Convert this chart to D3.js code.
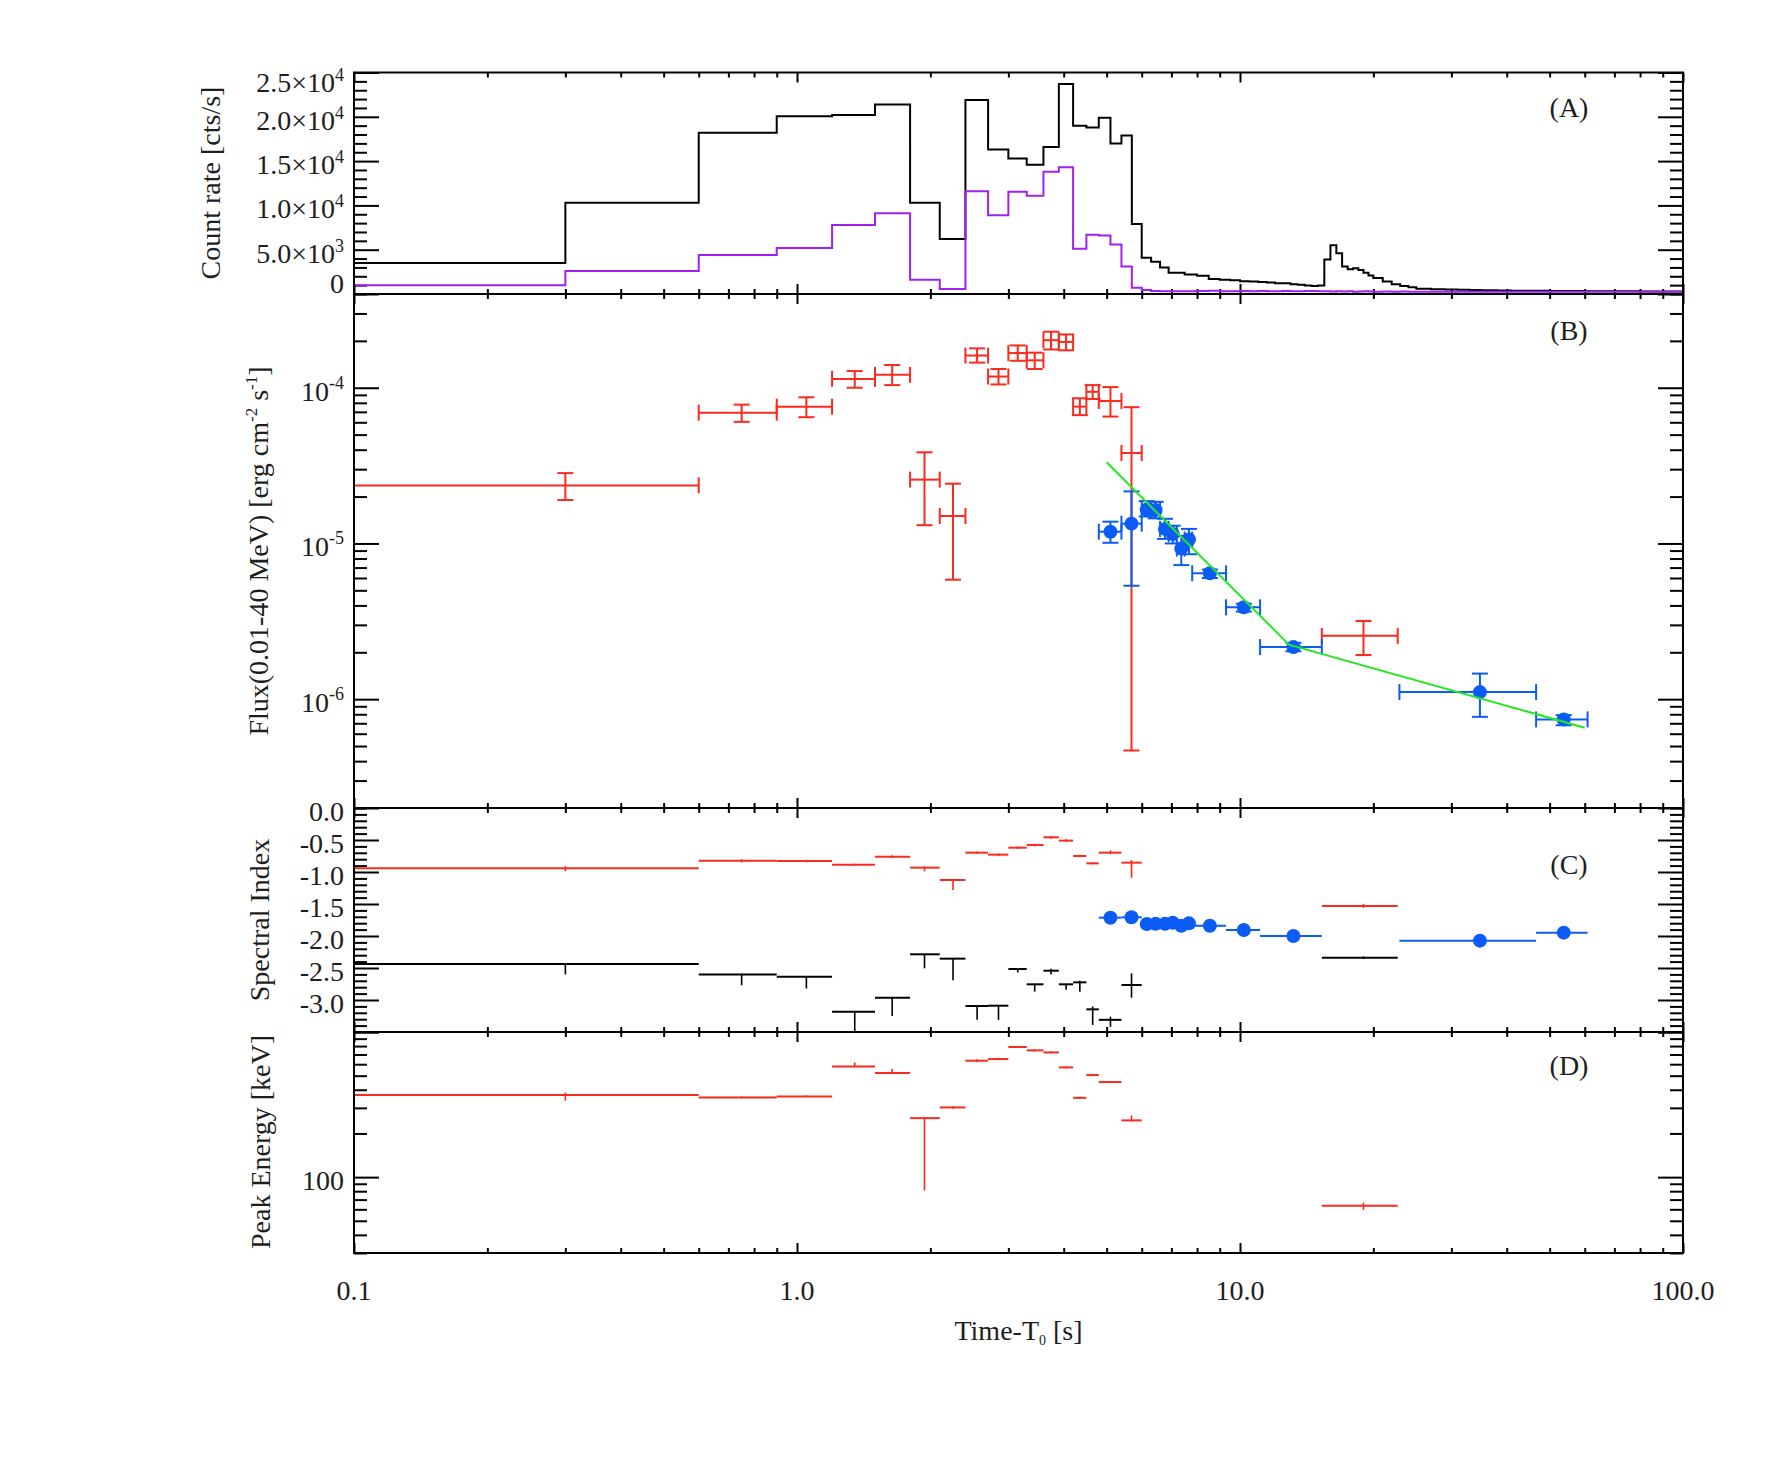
<!DOCTYPE html>
<html>
<head>
<meta charset="utf-8">
<script src="https://cdn.jsdelivr.net/npm/d3@7/dist/d3.min.js"></script>
<style>
  body { margin: 0; background: #fff; }
  svg text { font-family: "Liberation Serif", "DejaVu Serif", serif; fill: #1e1e1e; }
</style>
</head>
<body>
<script>
const chartWidth = 1771;
const chartHeight = 1475;
const plotLeft = 354;
const plotRight = 1683;
const fs = 28;

const red = '#fa2a1e';
const blue = '#0b5cf5';
const purple = '#a020f0';
const green = '#22e822';

// ---- time axis ----
const timeTicks = [0.1, 1, 10, 100];
const timeLabels = ['0.1', '1.0', '10.0', '100.0'];

// ---- (A) count rate, step histograms ----
const rateEdges = [0.1, 0.3, 0.6, 0.9, 1.2, 1.5, 1.8, 2.1, 2.4, 2.7, 3.0, 3.3, 3.6, 3.9, 4.2, 4.5, 4.8, 5.1, 5.4, 5.7, 6.0, 6.3, 6.6, 6.9,
  7.5, 8, 8.5, 9, 9.5, 10, 10.5, 11, 11.5, 12, 12.5, 13, 13.5, 14, 14.5, 15,
  15.5, 16, 16.5, 17, 17.5, 18, 18.5, 19, 19.5, 20, 21, 22, 23, 24, 25,
  27, 29, 31, 33, 35, 38, 41, 44, 47, 50, 55, 60, 65, 70, 75, 80, 85, 90, 95, 100];
const blackRate = [3500, 10300, 18200, 20050, 20200, 21400, 10300, 6200, 21900, 16300, 15300, 14600, 16600, 23700, 19000, 18800, 19900, 17000, 17900, 7900, 4100, 3650, 3000,
  2400, 2200, 2050, 1700, 1600, 1550, 1450, 1400, 1350, 1300, 1200, 1200, 1100, 1050, 950, 900,
  950, 3900, 5500, 4600, 3100, 2800, 2900, 2700, 2400, 2100, 1800, 1400, 1100, 900, 750,
  600, 550, 500, 480, 450, 420, 400, 380, 370, 360, 350, 330, 320, 320, 300, 300, 290, 290, 280, 280];
const purpleRate = [1000, 2600, 4400, 5200, 7800, 9100, 1600, 560, 11600, 8900, 11550, 11100, 13800, 14300, 5100, 6700, 6600, 5600, 3100, 700, 450, 350, 300,
  320, 300, 330, 380, 320, 300, 330, 300, 350, 320, 300, 340, 320, 300, 330, 350,
  320, 300, 280, 300, 280, 300, 260, 280, 300, 270, 260, 280, 250, 270, 250,
  240, 260, 250, 240, 250, 260, 240, 250, 260, 240, 250, 240, 250, 260, 250, 240, 250, 260, 250, 250];
const rateTicks = [0, 5000, 10000, 15000, 20000, 25000];
const rateTickMant = ['0', '5.0\u00d710', '1.0\u00d710', '1.5\u00d710', '2.0\u00d710', '2.5\u00d710'];
const rateTickExp = ['', '3', '4', '4', '4', '4'];

// ---- (B) flux, red = band fits, blue = later fits ----
const redT    = [0.3, 0.75, 1.05, 1.35, 1.64, 1.94, 2.25, 2.55, 2.85, 3.15, 3.44, 3.745, 4.05, 4.35, 4.65, 5.10, 5.69, 19.0];
const redTlo  = [0, 0.6, 0.9, 1.2, 1.5, 1.8, 2.1, 2.4, 2.7, 3.0, 3.3, 3.6, 3.9, 4.2, 4.5, 4.8, 5.4, 15.3];
const redThi  = [0.6, 0.9, 1.2, 1.5, 1.8, 2.1, 2.4, 2.7, 3.0, 3.3, 3.6, 3.9, 4.2, 4.5, 4.8, 5.4, 6.0, 22.7];
const redFlux   = [2.36e-5, 6.92e-5, 7.56e-5, 1.14e-4, 1.21e-4, 2.57e-5, 1.50e-5, 1.61e-4, 1.18e-4, 1.67e-4, 1.50e-4, 2.02e-4, 1.97e-4, 7.56e-5, 9.42e-5, 8.22e-5, 3.81e-5, 2.55e-6];
const redFluxHi = [2.83e-5, 7.79e-5, 8.68e-5, 1.28e-4, 1.40e-4, 3.85e-5, 2.42e-5, 1.79e-4, 1.32e-4, 1.87e-4, 1.68e-4, 2.29e-4, 2.20e-4, 8.56e-5, 1.04e-4, 1.01e-4, 7.50e-5, 3.18e-6];
const redFluxLo = [1.90e-5, 6.04e-5, 6.47e-5, 1.00e-4, 1.04e-4, 1.31e-5, 5.85e-6, 1.45e-4, 1.05e-4, 1.49e-4, 1.32e-4, 1.76e-4, 1.74e-4, 6.67e-5, 8.47e-5, 6.53e-5, 4.68e-7, 1.92e-6];

const blueT   = [5.10, 5.69, 6.16, 6.45, 6.77, 7.05, 7.37, 7.67, 8.55, 10.2, 13.2, 34.8, 53.8];
const blueTlo = [4.8, 5.4, 6.0, 6.3, 6.6, 6.9, 7.2, 7.5, 7.8, 9.3, 11.1, 22.9, 46.6];
const blueThi = [5.4, 6.0, 6.3, 6.6, 6.9, 7.2, 7.5, 7.8, 9.3, 11.1, 15.3, 46.6, 60.9];
const blueFlux   = [1.19e-5, 1.34e-5, 1.65e-5, 1.64e-5, 1.24e-5, 1.15e-5, 9.27e-6, 1.06e-5, 6.43e-6, 3.89e-6, 2.16e-6, 1.11e-6, 7.41e-7];
const blueFluxHi = [1.38e-5, 2.16e-5, 1.87e-5, 1.85e-5, 1.44e-5, 1.30e-5, 1.12e-5, 1.24e-5, 6.80e-6, 4.10e-6, 2.30e-6, 1.46e-6, 7.90e-7];
const blueFluxLo = [1.01e-5, 5.35e-6, 1.49e-5, 1.45e-5, 1.07e-5, 1.00e-5, 7.26e-6, 8.53e-6, 6.00e-6, 3.65e-6, 2.03e-6, 7.70e-7, 6.80e-7];

// broken power-law fit
const greenT = [5.0, 12.9, 60];
const greenFlux = [3.32e-5, 2.24e-6, 6.56e-7];

const fluxTicks = [1e-6, 1e-5, 1e-4];
const fluxTickExp = ['-6', '-5', '-4'];

// ---- (C) spectral index ----
const alphaRed   = [-0.943, -0.823, -0.828, -0.885, -0.76, -0.932, -1.125, -0.698, -0.729, -0.620, -0.578, -0.458, -0.510, -0.75, -0.865, -0.698, -0.854, -1.531];
const alphaRedHi = [-0.91, -0.80, -0.81, -0.87, -0.74, -0.91, -1.12, -0.68, -0.71, -0.60, -0.56, -0.44, -0.49, -0.73, -0.85, -0.66, -0.813, -1.50];
const alphaRedLo = [-0.99, -0.85, -0.85, -0.90, -0.78, -0.99, -1.28, -0.72, -0.75, -0.64, -0.60, -0.48, -0.53, -0.77, -0.88, -0.72, -1.089, -1.56];
const betaBlack   = [-2.4375, -2.60, -2.635, -3.182, -2.964, -2.286, -2.354, -3.094, -3.089, -2.516, -2.755, -2.542, -2.755, -2.724, -3.146, -3.31, -2.766, -2.339];
const betaBlackHi = [-2.43, -2.59, -2.63, -3.18, -2.96, -2.28, -2.35, -3.09, -3.08, -2.50, -2.75, -2.51, -2.75, -2.70, -3.10, -3.26, -2.583, -2.32];
const betaBlackLo = [-2.60, -2.77, -2.82, -3.60, -3.25, -2.505, -2.69, -3.31, -3.31, -2.57, -2.87, -2.60, -2.84, -2.87, -3.39, -3.42, -2.964, -2.36];
const indexBlue = [-1.714, -1.708, -1.8125, -1.81, -1.81, -1.792, -1.839, -1.802, -1.839, -1.906, -2.0, -2.073, -1.948];
const indexTicks = [0, -0.5, -1.0, -1.5, -2.0, -2.5, -3.0];
const indexLabels = ['0.0', '-0.5', '-1.0', '-1.5', '-2.0', '-2.5', '-3.0'];

// ---- (D) peak energy ----
const epRed   = [368, 354, 360, 579, 521, 255, 302, 634, 651, 788, 747, 723, 570, 352, 505, 452, 246, 63.4];
const epRedHi = [383, 360, 366, 617, 556, 258, 308, 650, 665, 800, 760, 735, 580, 358, 515, 460, 266, 66.8];
const epRedLo = [336, 350, 355, 579, 521, 80.8, 296, 620, 640, 778, 737, 713, 562, 346, 497, 446, 242, 59.5];
const epTicks = [100];
const epLabels = ['100'];

// ---------------------------------------------------------------
const svg = d3.select('body').append('svg')
  .attr('xmlns', 'http://www.w3.org/2000/svg')
  .attr('width', chartWidth)
  .attr('height', chartHeight);
svg.append('rect').attr('width', chartWidth).attr('height', chartHeight).attr('fill', '#fff');

const x = d3.scaleLog().domain([0.1, 100]).range([plotLeft, plotRight]).clamp(true);
const notIn = (arr) => (t) => !arr.some(m => Math.abs(m - t) / Math.abs(m || 1) < 1e-6);
const xMinor = x.ticks().filter(notIn(timeTicks));

const yA = d3.scaleLinear().domain([0, 25000]).range([294, 72.5]);
const yB = d3.scaleLog().domain([2e-7, 4e-4]).range([808, 294]);
const yC = d3.scaleLinear().domain([-3.5, 0]).range([1032, 808]);
const yD = d3.scaleLog().domain([30, 1000]).range([1253, 1032]);

// draws ticks on all four sides + frame, returns a clipped group for the data
function makePanel(y, majorY, minorY) {
  const [bottom, top] = y.range();
  const g = svg.append('g');
  const clipId = 'clip' + Math.round(top);
  svg.append('clipPath').attr('id', clipId).append('rect')
    .attr('x', plotLeft).attr('y', top)
    .attr('width', plotRight - plotLeft).attr('height', bottom - top);

  const axes = g.append('g');
  [[d3.axisBottom, bottom], [d3.axisTop, top]].forEach(([ax, pos]) => {
    axes.append('g').attr('transform', `translate(0,${pos})`)
      .call(ax(x).tickValues(timeTicks).tickSize(-10).tickSizeOuter(0).tickFormat(''));
    axes.append('g').attr('transform', `translate(0,${pos})`)
      .call(ax(x).tickValues(xMinor).tickSize(-5).tickSizeOuter(0).tickFormat(''));
  });
  [[d3.axisLeft, plotLeft], [d3.axisRight, plotRight]].forEach(([ax, pos]) => {
    axes.append('g').attr('transform', `translate(${pos},0)`)
      .call(ax(y).tickValues(majorY).tickSize(-25).tickSizeOuter(0).tickFormat(''));
    axes.append('g').attr('transform', `translate(${pos},0)`)
      .call(ax(y).tickValues(minorY).tickSize(-13).tickSizeOuter(0).tickFormat(''));
  });
  axes.selectAll('.domain').remove();
  axes.selectAll('.tick text').remove();
  axes.selectAll('.tick line').attr('stroke', '#000').attr('stroke-width', 2);

  const plot = g.append('g').attr('clip-path', `url(#${clipId})`);
  g.append('rect')
    .attr('x', plotLeft).attr('y', top)
    .attr('width', plotRight - plotLeft).attr('height', bottom - top)
    .attr('fill', 'none').attr('stroke', '#000').attr('stroke-width', 2);
  return plot;
}

// y tick labels, pulled inside the panel at the edges like the original
function yLabels(y, values, mains, sups, supShift, topPad) {
  const [bottom, top] = y.range();
  values.forEach((v, i) => {
    const base = Math.min(Math.max(y(v) + 13, top + topPad), bottom - 1);
    const t = svg.append('text')
      .attr('x', 344).attr('y', base)
      .attr('text-anchor', 'end').attr('font-size', fs);
    t.append('tspan').text(mains[i]);
    if (sups && sups[i]) t.append('tspan').attr('dy', -supShift).attr('font-size', 18).text(sups[i]);
  });
}

function yTitle(xPos, yPos) {
  return svg.append('text')
    .attr('transform', `translate(${xPos},${yPos}) rotate(-90)`)
    .attr('text-anchor', 'middle')
    .attr('font-size', fs);
}

function panelTag(label, base) {
  svg.append('text').attr('x', 1569).attr('y', base)
    .attr('text-anchor', 'middle').attr('font-size', fs).text(label);
}

// error bars with caps (panel B)
function capBars(g, y, t, tlo, thi, v, vlo, vhi, color) {
  const cap = 8;
  const idx = d3.range(t.length);
  const b = g.append('g').attr('stroke', color).attr('stroke-width', 2).attr('fill', 'none');
  const segs = [
    [i => x(tlo[i]), i => x(thi[i]), i => y(v[i]), i => y(v[i])],
    [i => x(tlo[i]), i => x(tlo[i]), i => y(v[i]) - cap, i => y(v[i]) + cap],
    [i => x(thi[i]), i => x(thi[i]), i => y(v[i]) - cap, i => y(v[i]) + cap],
    [i => x(t[i]), i => x(t[i]), i => y(vlo[i]), i => y(vhi[i])],
    [i => x(t[i]) - cap, i => x(t[i]) + cap, i => y(vlo[i]), i => y(vlo[i])],
    [i => x(t[i]) - cap, i => x(t[i]) + cap, i => y(vhi[i]), i => y(vhi[i])]
  ];
  segs.forEach(([x1, x2, y1, y2]) => {
    b.selectAll(null).data(idx).enter().append('line')
      .attr('x1', x1).attr('x2', x2).attr('y1', y1).attr('y2', y2);
  });
}

// plain bars without caps (panels C, D)
function plainBars(g, y, t, tlo, thi, v, vlo, vhi, color) {
  const idx = d3.range(t.length);
  const b = g.append('g').attr('stroke', color).attr('stroke-width', 2).attr('fill', 'none');
  b.selectAll(null).data(idx).enter().append('line')
    .attr('x1', i => x(tlo[i])).attr('x2', i => x(thi[i]))
    .attr('y1', i => y(v[i])).attr('y2', i => y(v[i]));
  if (vlo) {
    b.selectAll(null).data(idx).enter().append('line')
      .attr('stroke-width', 1.6)
      .attr('x1', i => x(t[i])).attr('x2', i => x(t[i]))
      .attr('y1', i => y(vlo[i])).attr('y2', i => y(vhi[i]));
  }
}

function dots(g, y, t, v) {
  g.append('g').selectAll('circle')
    .data(d3.range(t.length)).enter().append('circle')
    .attr('cx', i => x(t[i])).attr('cy', i => y(v[i]))
    .attr('r', 7).attr('fill', blue);
}

// ---- panel A ----
const minorA = d3.range(0, 25001, 1000).filter(v => v % 5000 !== 0);
const pA = makePanel(yA, rateTicks, minorA);
const stepLine = d3.line().x(d => x(d[0])).y(d => yA(d[1])).curve(d3.curveStepAfter);
function stepPoints(vals) {
  const pts = vals.map((v, i) => [rateEdges[i], v]);
  pts.push([rateEdges[vals.length], vals[vals.length - 1]]);
  return pts;
}
pA.append('path').attr('d', stepLine(stepPoints(blackRate)))
  .attr('fill', 'none').attr('stroke', '#000').attr('stroke-width', 2);
pA.append('path').attr('d', stepLine(stepPoints(purpleRate)))
  .attr('fill', 'none').attr('stroke', purple).attr('stroke-width', 2);
yLabels(yA, rateTicks, rateTickMant, rateTickExp, 11, 19);
yTitle(220, 183).text('Count rate [cts/s]');
panelTag('(A)', 117);

// ---- panel B ----
const minorB = yB.ticks().filter(notIn(fluxTicks));
const pB = makePanel(yB, fluxTicks, minorB);
capBars(pB, yB, redT, redTlo, redThi, redFlux, redFluxLo, redFluxHi, red);
capBars(pB, yB, blueT, blueTlo, blueThi, blueFlux, blueFluxLo, blueFluxHi, blue);
dots(pB, yB, blueT, blueFlux);
pB.append('path')
  .attr('d', d3.line().x((d, i) => x(greenT[i])).y((d, i) => yB(greenFlux[i]))(greenT))
  .attr('fill', 'none').attr('stroke', green).attr('stroke-width', 2);
yLabels(yB, fluxTicks, ['10', '10', '10'], fluxTickExp, 12, 19);
const tB = yTitle(268, 551);
tB.append('tspan').text('Flux(0.01-40 MeV) [erg cm');
tB.append('tspan').attr('dy', -11).attr('font-size', 17).text('-2');
tB.append('tspan').attr('dy', 11).text(' s');
tB.append('tspan').attr('dy', -11).attr('font-size', 17).text('-1');
tB.append('tspan').attr('dy', 11).text(']');
panelTag('(B)', 340);

// ---- panel C ----
const minorC = d3.range(-35, 1).filter(v => v % 5 !== 0).map(v => v / 10);
const pC = makePanel(yC, indexTicks.concat([-3.5]), minorC);
plainBars(pC, yC, redT, redTlo, redThi, alphaRed, alphaRedLo, alphaRedHi, red);
plainBars(pC, yC, redT, redTlo, redThi, betaBlack, betaBlackLo, betaBlackHi, '#000');
plainBars(pC, yC, blueT, blueTlo, blueThi, indexBlue, null, null, blue);
dots(pC, yC, blueT, indexBlue);
// labels sit 32px apart here, so the top one keeps its natural spot to avoid touching "-0.5"
yLabels(yC, indexTicks, indexLabels, null, 0, 12);
yTitle(269, 920).text('Spectral Index');
panelTag('(C)', 874);

// ---- panel D ----
const minorD = yD.ticks().filter(notIn([100, 1000]));
const pD = makePanel(yD, [100, 1000], minorD);
plainBars(pD, yD, redT, redTlo, redThi, epRed, epRedLo, epRedHi, red);
yLabels(yD, epTicks, epLabels, null, 0, 19);
yTitle(270, 1142).text('Peak Energy [keV]');
panelTag('(D)', 1075);

// ---- time axis labels ----
svg.selectAll('.xlab').data(timeTicks).enter().append('text')
  .attr('class', 'xlab')
  .attr('x', d => x(d)).attr('y', 1300)
  .attr('text-anchor', 'middle').attr('font-size', fs)
  .text((d, i) => timeLabels[i]);
const xt = svg.append('text').attr('x', (plotLeft + plotRight) / 2).attr('y', 1340)
  .attr('text-anchor', 'middle').attr('font-size', fs);
xt.append('tspan').text('Time-T');
xt.append('tspan').attr('dy', 5).attr('font-size', 14).text('0');
xt.append('tspan').attr('dy', -5).text(' [s]');
</script>
</body>
</html>
